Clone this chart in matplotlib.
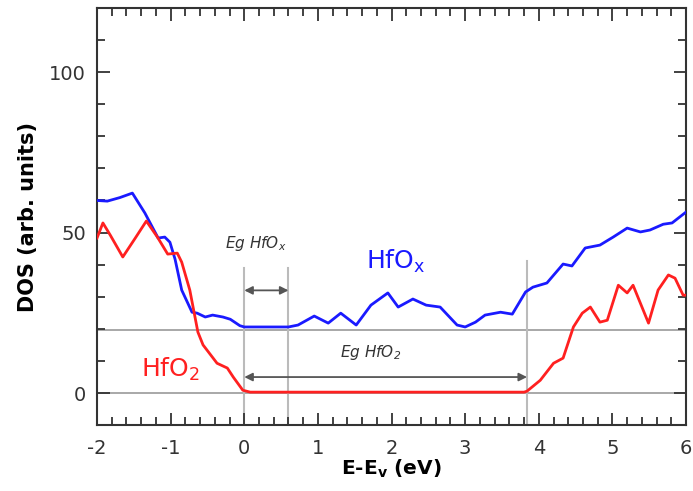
import matplotlib
matplotlib.use("Agg")
import matplotlib.pyplot as plt
from matplotlib.ticker import MultipleLocator

plt.rcParams["axes.unicode_minus"] = False

# HfOx DOS curve (blue)
hfox_e = [-2.0, -1.86, -1.69, -1.52, -1.35, -1.17, -1.08, -1.01, -0.94, -0.85,
          -0.71, -0.64, -0.53, -0.43, -0.29, -0.19, -0.06, 0.0, 0.3, 0.6,
          0.73, 0.95, 1.14, 1.31, 1.52, 1.72, 1.95, 2.09, 2.29, 2.47, 2.66,
          2.89, 3.0, 3.14, 3.27, 3.48, 3.64, 3.82, 3.92, 4.11, 4.33, 4.45,
          4.63, 4.83, 5.01, 5.20, 5.38, 5.51, 5.69, 5.81, 6.0]
hfox_dos = [60.0, 59.8, 60.9, 62.3, 56.1, 48.3, 48.6, 47.0, 41.7, 32.1,
            25.2, 24.9, 23.7, 24.3, 23.7, 23.0, 21.0, 20.6, 20.6, 20.6,
            21.2, 24.0, 21.8, 24.9, 21.2, 27.4, 31.2, 26.8, 29.3, 27.4, 26.8,
            21.2, 20.6, 22.1, 24.3, 25.2, 24.6, 31.5, 33.0, 34.3, 40.2, 39.6,
            45.2, 46.1, 48.6, 51.4, 50.2, 50.8, 52.6, 53.0, 56.4]

# HfO2 DOS curve (red)
hfo2_e = [-2.0, -1.92, -1.82, -1.65, -1.48, -1.33, -1.18, -1.04, -0.91, -0.85,
          -0.74, -0.63, -0.56, -0.37, -0.23, -0.15, -0.02, 0.08, 1.0, 2.0,
          3.0, 3.8, 3.84, 4.02, 4.20, 4.33, 4.47, 4.59, 4.70, 4.83, 4.93,
          5.08, 5.20, 5.28, 5.49, 5.62, 5.76, 5.85, 5.96, 6.0]
hfo2_dos = [48.3, 53.0, 49.2, 42.4, 48.3, 53.6, 48.6, 43.3, 43.6, 40.8,
            32.1, 19.0, 15.0, 9.3, 7.8, 5.0, 0.9, 0.3, 0.3, 0.3,
            0.3, 0.3, 0.6, 4.0, 9.3, 10.9, 20.6, 24.9, 26.8, 22.1, 22.7,
            33.6, 31.2, 33.6, 21.8, 32.1, 36.8, 35.8, 30.5, 30.5]

# band edges and gaps
vbm = 0.0
cbm_hfox = 0.6
cbm_hfo2 = 3.84
ref_levels = [0, 19.5]

fig = plt.figure(figsize=(6.93, 4.91), dpi=100)
ax = fig.add_axes([0.14, 0.134, 0.85, 0.85])

for lvl in ref_levels:
    ax.axhline(lvl, color="#999999", lw=1.2, zorder=1)
ax.plot([vbm, vbm], [-10, 39], color="#bbbbbb", lw=1.5, zorder=1)
ax.plot([cbm_hfox, cbm_hfox], [-10, 39], color="#bbbbbb", lw=1.5, zorder=1)
ax.plot([cbm_hfo2, cbm_hfo2], [-10, 41], color="#bbbbbb", lw=1.5, zorder=1)

ax.plot(hfox_e, hfox_dos, color="#1a1aff", lw=2, zorder=3)
ax.plot(hfo2_e, hfo2_dos, color="#ff2020", lw=2, zorder=3)

arrow = dict(arrowstyle="<|-|>", color="#555555", lw=1.3, mutation_scale=12,
             shrinkA=0, shrinkB=0)
ax.annotate("", xy=(vbm, 32), xytext=(cbm_hfox, 32), arrowprops=arrow)
ax.annotate("", xy=(vbm, 5), xytext=(cbm_hfo2, 5), arrowprops=arrow)

ax.text(0.15, 46.5, r"Eg HfO$_\mathregular{x}$", style="italic", fontsize=11,
        color="#333333", ha="center", va="center")
ax.text(1.72, 12.5, r"Eg HfO$_\mathregular{2}$", style="italic", fontsize=11,
        color="#333333", ha="center", va="center")
ax.text(2.05, 41, r"HfO$_\mathregular{x}$", fontsize=18, color="#1a1aff",
        ha="center", va="center")
ax.text(-1.0, 7.5, r"HfO$_\mathregular{2}$", fontsize=18, color="#ff2020",
        ha="center", va="center")

ax.set_xlim(-2, 6)
ax.set_ylim(-10, 120)
ax.xaxis.set_major_locator(MultipleLocator(1))
ax.xaxis.set_minor_locator(MultipleLocator(0.2))
ax.yaxis.set_major_locator(MultipleLocator(50))
ax.yaxis.set_minor_locator(MultipleLocator(10))
ax.tick_params(which="both", direction="in", top=True, right=True,
               color="#333333", width=1.3)
ax.tick_params(which="major", length=9, labelsize=14, labelcolor="#333333", pad=8)
ax.tick_params(axis="x", which="major", pad=10)
ax.tick_params(which="minor", length=6)
for sp in ax.spines.values():
    sp.set_color("#333333")
    sp.set_linewidth(1.5)

ax.set_xlabel(r"E-E$_\mathbf{v}$ (eV)", fontsize=14.5, fontweight="bold", labelpad=0)
ax.set_ylabel("DOS (arb. units)", fontsize=15, fontweight="bold", labelpad=8)

fig.savefig("out.png", dpi=100)
